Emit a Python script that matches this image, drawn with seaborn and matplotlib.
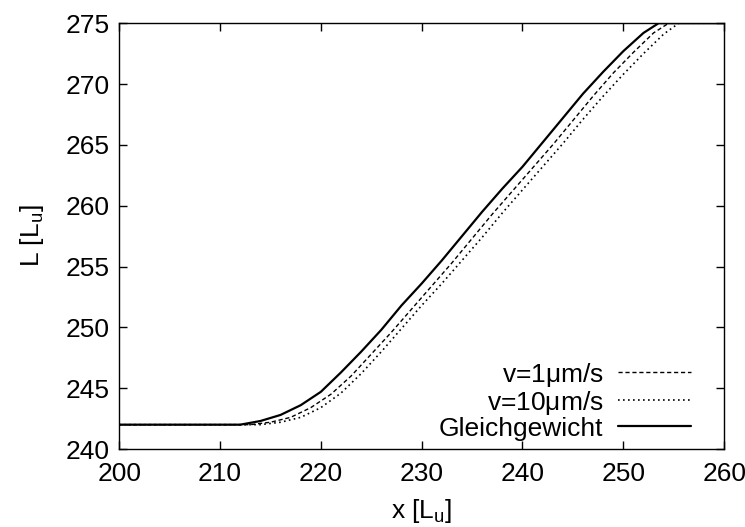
import matplotlib
matplotlib.use("Agg")
import matplotlib.pyplot as plt
import seaborn as sns

sns.set_theme(style="ticks")
plt.rcParams['font.family'] = ['Liberation Sans', 'DejaVu Sans']
plt.rcParams['mathtext.fontset'] = 'custom'
plt.rcParams['mathtext.rm'] = 'Liberation Sans'
plt.rcParams['mathtext.it'] = 'Liberation Sans'
plt.rcParams['text.color'] = 'black'
plt.rcParams['axes.labelcolor'] = 'black'
plt.rcParams['xtick.color'] = 'black'
plt.rcParams['ytick.color'] = 'black'

# Gleichgewicht (equilibrium)
x_eq = [200, 212, 214, 216, 218, 220, 222, 224, 226, 228, 230, 232, 234, 236, 238,
        240, 242, 244, 246, 248, 250, 252, 253.5, 260]
L_eq = [242, 242, 242.3, 242.8, 243.6, 244.7, 246.3, 248.0, 249.8, 251.8, 253.6, 255.5,
        257.5, 259.5, 261.4, 263.2, 265.2, 267.2, 269.2, 271.0, 272.7, 274.2, 275, 275]
# v = 1 um/s
x_v1 = [200, 213, 215, 217, 219, 221, 223, 225, 227, 229, 231, 233, 235, 237, 239,
        241, 243, 245, 247, 249, 251, 253, 254.5, 260]
L_v1 = [242, 242, 242.2, 242.6, 243.4, 244.5, 246.0, 247.8, 249.6, 251.5, 253.4, 255.3,
        257.3, 259.3, 261.2, 263.1, 265.0, 267.0, 269.0, 270.9, 272.6, 274.2, 275, 275]
# v = 10 um/s
x_v10 = [200, 214, 216, 218, 220, 222, 224, 226, 228, 230, 232, 234, 236, 238, 240,
         242, 244, 246, 248, 250, 252, 254, 255.5, 260]
L_v10 = [242, 242, 242.2, 242.6, 243.4, 244.6, 246.2, 248.0, 249.9, 251.8, 253.6, 255.5,
         257.4, 259.4, 261.3, 263.2, 265.1, 267.1, 269.0, 270.8, 272.5, 274.1, 275, 275]

labels = ["v=1$\\mu$m/s", "v=10$\\mu$m/s", "Gleichgewicht"]

fig = plt.figure(figsize=(7.45, 5.27), dpi=100)
ax = fig.add_axes([0.16, 0.148, 0.812, 0.808])

sns.lineplot(x=x_v1, y=L_v1, ax=ax, color="black", lw=1.0, label=labels[0],
             linestyle=(0, (3, 2)), sort=False)
sns.lineplot(x=x_v10, y=L_v10, ax=ax, color="black", lw=1.2, label=labels[1],
             linestyle=(0, (1, 2)), sort=False)
sns.lineplot(x=x_eq, y=L_eq, ax=ax, color="black", lw=1.6, label=labels[2],
             linestyle="-", sort=False)

ax.set_xlim(200, 260)
ax.set_ylim(240, 275)
ax.set_xticks([200, 210, 220, 230, 240, 250, 260])
ax.set_yticks([240, 245, 250, 255, 260, 265, 270, 275])
ax.tick_params(direction="in", length=6, width=1, top=True, right=True,
               labelsize=19, color="black", labelcolor="black")
ax.tick_params(axis="y", pad=7)
ax.tick_params(axis="x", pad=9)
for s in ax.spines.values():
    s.set_color("black")
    s.set_linewidth(1.0)
ax.set_xlabel("x [L$_{\\mathrm{u}}$]", fontsize=19, labelpad=8, color="black")
ax.set_ylabel("L [L$_{\\mathrm{u}}$]", fontsize=19, labelpad=14, color="black")

leg = ax.legend(loc="lower right", frameon=False, markerfirst=False, fontsize=19,
                handlelength=2.75, labelspacing=0.0, borderaxespad=0.0, handletextpad=0.55,
                bbox_to_anchor=(0.962, -0.005))
for t in leg.get_texts():
    t.set_ha("right")
    t.set_color("black")

fig.savefig("out.png", dpi=100)
